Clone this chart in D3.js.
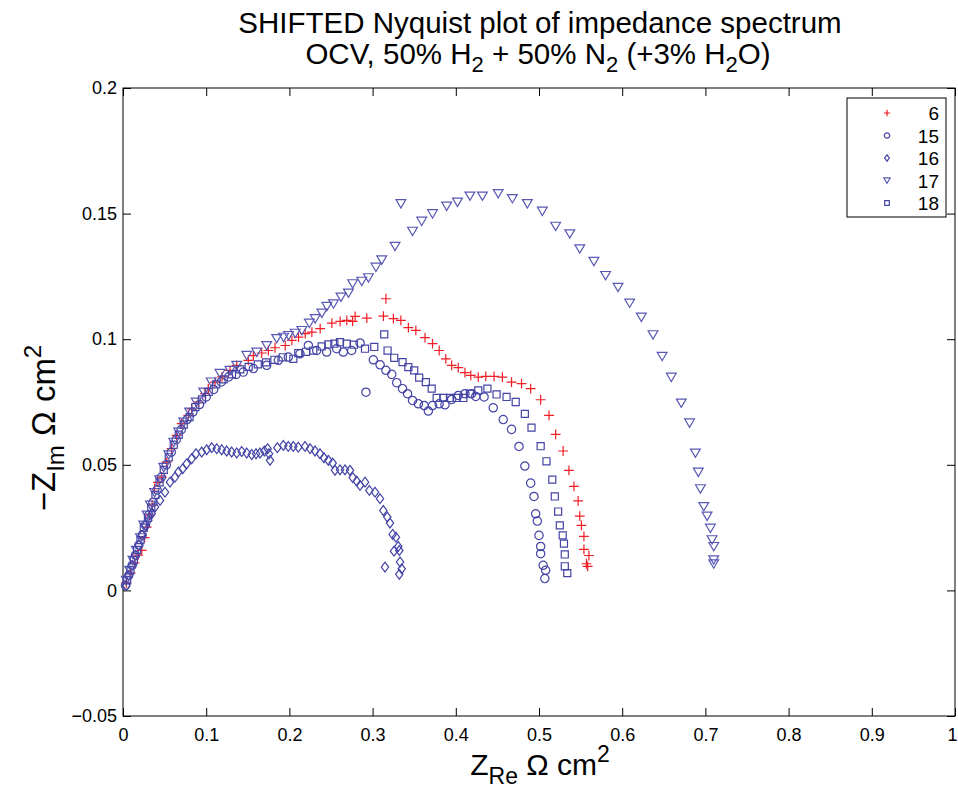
<!DOCTYPE html>
<html><head><meta charset="utf-8">
<script src="https://cdn.jsdelivr.net/npm/d3@7/dist/d3.min.js"></script>
<style>
html,body{margin:0;padding:0;background:#fff;}
svg{display:block;font-family:"Liberation Sans",Arial,Helvetica,sans-serif;}
</style></head>
<body><svg id="chart" width="958" height="793"></svg>
<script>
// ---------- data ----------
const seriesNames = ["6", "15", "16", "17", "18"];
const seriesShapes = ["plus", "circle", "diamond", "triangleDown", "square"];
const seriesColors = ["#f01c24", "#4444a6", "#4444a6", "#5858b4", "#4444a6"];
const xTicks = [0, 0.1, 0.2, 0.3, 0.4, 0.5, 0.6, 0.7, 0.8, 0.9, 1];
const xTickLabels = ["0", "0.1", "0.2", "0.3", "0.4", "0.5", "0.6", "0.7", "0.8", "0.9", "1"];
const yTicks = [-0.05, 0, 0.05, 0.1, 0.15, 0.2];
const yTickLabels = ["\u22120.05", "0", "0.05", "0.1", "0.15", "0.2"];

const s6 = [[0.004,0.003],[0.009,0.007],[0.014,0.011],[0.018,0.014],[0.0225,0.0159],[0.026,0.021],[0.0284,0.0252],[0.032,0.030],[0.035,0.034],[0.038,0.0405],[0.042,0.043],[0.0465,0.0451],[0.0525,0.0511],[0.0585,0.0564],[0.0645,0.0617],[0.0705,0.0664],[0.0785,0.0697],[0.0825,0.0723],[0.0905,0.075],[0.0986,0.0783],[0.1025,0.0803],[0.1106,0.0829],[0.119,0.085],[0.1286,0.0876],[0.1367,0.0896],[0.1506,0.0916],[0.1567,0.0935],[0.1667,0.0945],[0.1747,0.0955],[0.1827,0.0966],[0.195,0.0975],[0.203,0.0995],[0.211,0.1008],[0.219,0.1022],[0.227,0.1028],[0.237,0.1042],[0.251,0.1064],[0.261,0.1071],[0.269,0.1075],[0.276,0.1071],[0.279,0.1091],[0.293,0.1084],[0.316,0.1161],[0.313,0.1092],[0.325,0.1082],[0.334,0.1075],[0.343,0.1046],[0.352,0.1035],[0.363,0.1006],[0.372,0.0982],[0.380,0.0955],[0.388,0.0922],[0.395,0.0896],[0.403,0.0887],[0.411,0.0867],[0.418,0.0856],[0.427,0.0849],[0.436,0.0852],[0.446,0.0852],[0.456,0.0849],[0.467,0.0829],[0.479,0.0823],[0.490,0.0803],[0.502,0.0759],[0.512,0.0697],[0.520,0.0621],[0.529,0.0555],[0.536,0.0478],[0.542,0.0414],[0.547,0.0356],[0.549,0.0296],[0.551,0.0259],[0.554,0.0215],[0.554,0.0163],[0.560,0.0139],[0.557,0.0106],[0.5585,0.0096]];

const s15 = [[0.003,0.002],[0.007,0.006],[0.011,0.010],[0.015,0.014],[0.019,0.018],[0.023,0.022],[0.027,0.026],[0.031,0.030],[0.036,0.035],[0.041,0.040],[0.046,0.045],[0.052,0.050],[0.058,0.055],[0.064,0.060],[0.070,0.064],[0.077,0.068],[0.084,0.071],[0.092,0.074],[0.100,0.077],[0.109,0.080],[0.118,0.083],[0.127,0.085],[0.136,0.086],[0.1446,0.0869],[0.1567,0.0883],[0.1727,0.0896],[0.1867,0.0916],[0.1987,0.0929],[0.2127,0.0942],[0.2228,0.0975],[0.2328,0.0955],[0.2448,0.0949],[0.2568,0.0962],[0.2648,0.0949],[0.2748,0.0955],[0.2849,0.0985],[0.292,0.0789],[0.3009,0.0918],[0.309,0.0898],[0.316,0.0876],[0.323,0.086],[0.329,0.0827],[0.336,0.0803],[0.342,0.0783],[0.348,0.0756],[0.355,0.0743],[0.362,0.0736],[0.367,0.0714],[0.372,0.0736],[0.380,0.0743],[0.387,0.0739],[0.395,0.076],[0.403,0.0776],[0.411,0.0783],[0.419,0.0783],[0.424,0.0772],[0.434,0.077],[0.445,0.0727],[0.457,0.068],[0.467,0.0641],[0.476,0.0573],[0.483,0.0495],[0.490,0.0427],[0.494,0.0374],[0.496,0.0305],[0.498,0.0276],[0.500,0.0219],[0.502,0.0175],[0.502,0.0146],[0.505,0.010],[0.508,0.008],[0.507,0.0047]];

const s16 = [[0.004,0.002],[0.007,0.006],[0.011,0.010],[0.015,0.014],[0.019,0.018],[0.023,0.022],[0.027,0.026],[0.0304,0.0279],[0.0345,0.0305],[0.0385,0.0332],[0.0445,0.0358],[0.0505,0.0391],[0.0565,0.0431],[0.0625,0.0451],[0.0665,0.0471],[0.0717,0.0484],[0.0765,0.0504],[0.0825,0.0524],[0.0877,0.0544],[0.0946,0.0551],[0.1006,0.056],[0.1066,0.0568],[0.1126,0.0564],[0.1186,0.056],[0.1246,0.0555],[0.1306,0.0551],[0.1367,0.0547],[0.1427,0.0553],[0.1487,0.0547],[0.1547,0.0541],[0.1599,0.0544],[0.1647,0.0547],[0.1699,0.0555],[0.1739,0.0564],[0.1767,0.0518],[0.1755,0.0544],[0.1855,0.0568],[0.1927,0.0577],[0.1987,0.0573],[0.2047,0.0573],[0.2107,0.057],[0.2188,0.0573],[0.2248,0.0564],[0.2308,0.0555],[0.2368,0.0544],[0.2416,0.0528],[0.2468,0.0518],[0.2520,0.0507],[0.2548,0.0478],[0.2608,0.048],[0.2668,0.048],[0.2728,0.0478],[0.2761,0.0449],[0.2809,0.0435],[0.2849,0.0418],[0.2909,0.0431],[0.2961,0.0398],[0.3029,0.0391],[0.3089,0.0365],[0.3129,0.0318],[0.3177,0.0292],[0.3209,0.0268],[0.3241,0.0223],[0.3281,0.0212],[0.3309,0.0175],[0.3321,0.0159],[0.3257,0.0156],[0.333,0.0113],[0.335,0.0086],[0.3149,0.0093],[0.3321,0.0064]];

const s17 = [[0.004,0.004],[0.008,0.008],[0.012,0.012],[0.016,0.016],[0.021,0.021],[0.025,0.026],[0.029,0.030],[0.033,0.034],[0.038,0.039],[0.044,0.044],[0.049,0.049],[0.055,0.054],[0.061,0.059],[0.067,0.063],[0.073,0.067],[0.080,0.071],[0.088,0.075],[0.097,0.079],[0.106,0.083],[0.1166,0.0864],[0.1286,0.0876],[0.1367,0.0896],[0.1487,0.0936],[0.1607,0.0949],[0.1727,0.0975],[0.1847,0.1003],[0.193,0.1008],[0.199,0.1015],[0.207,0.1024],[0.215,0.1035],[0.224,0.1064],[0.231,0.1082],[0.239,0.1104],[0.245,0.1131],[0.253,0.1141],[0.262,0.1168],[0.271,0.1184],[0.276,0.1221],[0.287,0.1231],[0.295,0.1245],[0.304,0.1287],[0.311,0.1316],[0.327,0.137],[0.334,0.154],[0.348,0.143],[0.359,0.147],[0.372,0.150],[0.389,0.153],[0.402,0.1546],[0.417,0.157],[0.432,0.157],[0.451,0.158],[0.468,0.156],[0.486,0.154],[0.504,0.151],[0.520,0.145],[0.537,0.142],[0.549,0.136],[0.566,0.131],[0.580,0.1254],[0.595,0.1207],[0.609,0.1144],[0.623,0.1088],[0.637,0.1018],[0.648,0.0932],[0.659,0.0849],[0.671,0.0746],[0.681,0.0667],[0.688,0.0547],[0.6915,0.0471],[0.694,0.0405],[0.698,0.0334],[0.702,0.0296],[0.706,0.0248],[0.708,0.0202],[0.710,0.0175],[0.710,0.0122],[0.710,0.0106]];

const s18 = [[0.005,0.004],[0.009,0.008],[0.013,0.012],[0.017,0.016],[0.021,0.020],[0.025,0.025],[0.030,0.029],[0.034,0.033],[0.039,0.038],[0.044,0.043],[0.049,0.048],[0.055,0.053],[0.061,0.058],[0.067,0.062],[0.073,0.066],[0.080,0.069],[0.087,0.073],[0.095,0.076],[0.103,0.079],[0.112,0.082],[0.121,0.084],[0.131,0.086],[0.141,0.088],[0.151,0.089],[0.162,0.090],[0.172,0.0908],[0.182,0.0918],[0.192,0.0928],[0.2047,0.0922],[0.2107,0.0945],[0.220,0.095],[0.2287,0.0955],[0.2388,0.0971],[0.2468,0.0979],[0.254,0.0982],[0.2608,0.0988],[0.2688,0.0982],[0.2776,0.0978],[0.2909,0.0962],[0.302,0.0969],[0.314,0.1019],[0.318,0.0955],[0.326,0.0926],[0.336,0.0909],[0.343,0.0889],[0.350,0.0876],[0.356,0.0847],[0.364,0.0829],[0.371,0.0803],[0.377,0.0766],[0.385,0.0766],[0.393,0.0766],[0.401,0.0766],[0.409,0.0766],[0.417,0.0783],[0.427,0.0796],[0.438,0.0803],[0.449,0.078],[0.461,0.077],[0.472,0.075],[0.483,0.0703],[0.491,0.0648],[0.502,0.0574],[0.509,0.0514],[0.516,0.0441],[0.519,0.0374],[0.523,0.0314],[0.525,0.0259],[0.5285,0.0219],[0.530,0.0186],[0.531,0.0143],[0.531,0.0096],[0.534,0.0069]];

const seriesData = [s6, s15, s16, s17, s18];

// ---------- layout ----------
const L = 123, R = 955, T = 88, B = 716;
const svg = d3.select("#chart");
const x = d3.scaleLinear().domain([0, 1]).range([L, R]);
const y = d3.scaleLinear().domain([-0.05, 0.2]).range([B, T]);

// frame
svg.append("rect").attr("x", L).attr("y", T).attr("width", R - L).attr("height", B - T)
  .attr("fill", "none").attr("stroke", "#000").attr("stroke-width", 1);

// axes (ticks inward)
const gx = svg.append("g").attr("transform", `translate(0,${B})`)
  .call(d3.axisBottom(x).tickValues(xTicks).tickFormat((d, i) => xTickLabels[i])
    .tickSizeInner(-8).tickSizeOuter(0).tickPadding(12));
const gxt = svg.append("g").attr("transform", `translate(0,${T})`)
  .call(d3.axisTop(x).tickValues(xTicks).tickFormat("").tickSizeInner(-8).tickSizeOuter(0));
const gy = svg.append("g").attr("transform", `translate(${L},0)`)
  .call(d3.axisLeft(y).tickValues(yTicks).tickFormat((d, i) => yTickLabels[i])
    .tickSizeInner(-8).tickSizeOuter(0).tickPadding(6));
const gyr = svg.append("g").attr("transform", `translate(${R},0)`)
  .call(d3.axisRight(y).tickValues(yTicks).tickFormat("").tickSizeInner(-8).tickSizeOuter(0));
[gx, gxt, gy, gyr].forEach(g => { g.select(".domain").remove(); g.selectAll("line").attr("stroke", "#000"); });
gx.selectAll("text").attr("font-size", 18).attr("fill", "#000").attr("font-family", null);
gx.selectAll("text").filter((d, i) => i === xTicks.length - 1).attr("x", -3);
gy.selectAll("text").attr("font-size", 18).attr("fill", "#000").attr("font-family", null);

// markers
function markerPath(shape, s) {
  const p = d3.path();
  if (shape === "plus") {
    p.moveTo(-s, 0); p.lineTo(s, 0); p.moveTo(0, -s); p.lineTo(0, s);
  } else if (shape === "circle") {
    p.arc(0, 0, s * 0.85, 0, 2 * Math.PI);
  } else if (shape === "diamond") {
    p.moveTo(0, -s); p.lineTo(s * 0.75, 0); p.lineTo(0, s); p.lineTo(-s * 0.75, 0); p.closePath();
  } else if (shape === "triangleDown") {
    p.moveTo(-s, -s * 0.8); p.lineTo(s, -s * 0.8); p.lineTo(0, s * 0.9); p.closePath();
  } else if (shape === "square") {
    p.rect(-s * 0.72, -s * 0.72, s * 1.44, s * 1.44);
  }
  return p.toString();
}
const plot = svg.append("g");
seriesData.forEach((data, i) => {
  plot.append("g").selectAll("path").data(data).join("path")
    .attr("d", markerPath(seriesShapes[i], 4.9))
    .attr("transform", d => `translate(${x(d[0])},${y(d[1])})`)
    .attr("fill", "none").attr("stroke", seriesColors[i]).attr("stroke-width", 1.2);
});

// legend
const lg = svg.append("g");
lg.append("rect").attr("x", 847).attr("y", 98).attr("width", 99).attr("height", 119)
  .attr("fill", "#fff").attr("stroke", "#000").attr("stroke-width", 1);
seriesNames.forEach((n, i) => {
  const yy = 113 + i * 22.5;
  lg.append("path").attr("d", markerPath(seriesShapes[i], 3.2))
    .attr("transform", `translate(887,${yy})`)
    .attr("fill", "none").attr("stroke", seriesColors[i]).attr("stroke-width", 1.2);
  lg.append("text").attr("x", 939).attr("y", yy + 7)
    .attr("text-anchor", "end").attr("font-size", 19).text(n);
});

// title
svg.append("text").attr("x", 540).attr("y", 33)
  .attr("text-anchor", "middle").attr("font-size", 29.5).text("SHIFTED Nyquist plot of impedance spectrum");
const t2 = svg.append("text").attr("x", 538).attr("y", 64)
  .attr("text-anchor", "middle").attr("font-size", 29.5);
[["OCV, 50% H", 0], ["2", 1], [" + 50% N", 0], ["2", 1], [" (+3% H", 0], ["2", 1], ["O)", 0]].forEach(([s, sub], k) => {
  const ts = t2.append("tspan").text(s);
  if (sub) ts.attr("font-size", 22).attr("dy", 8);
  else if (k > 0) ts.attr("dy", -8);
});

// x label
const xl = svg.append("text").attr("x", 540).attr("y", 775)
  .attr("text-anchor", "middle").attr("font-size", 30);
xl.append("tspan").text("Z");
xl.append("tspan").text("Re").attr("font-size", 23).attr("dy", 9);
xl.append("tspan").text(" \u03A9 cm").attr("dy", -9);
xl.append("tspan").text("2").attr("font-size", 23).attr("dy", -13);

// y label
const yl = svg.append("text").attr("transform", "translate(55,428) rotate(-90)")
  .attr("text-anchor", "middle").attr("font-size", 33);
yl.append("tspan").text("\u2212Z");
yl.append("tspan").text("Im").attr("font-size", 24).attr("dy", 9);
yl.append("tspan").text(" \u03A9 cm").attr("dy", -9);
yl.append("tspan").text("2").attr("font-size", 24).attr("dy", -14);
</script></body></html>
